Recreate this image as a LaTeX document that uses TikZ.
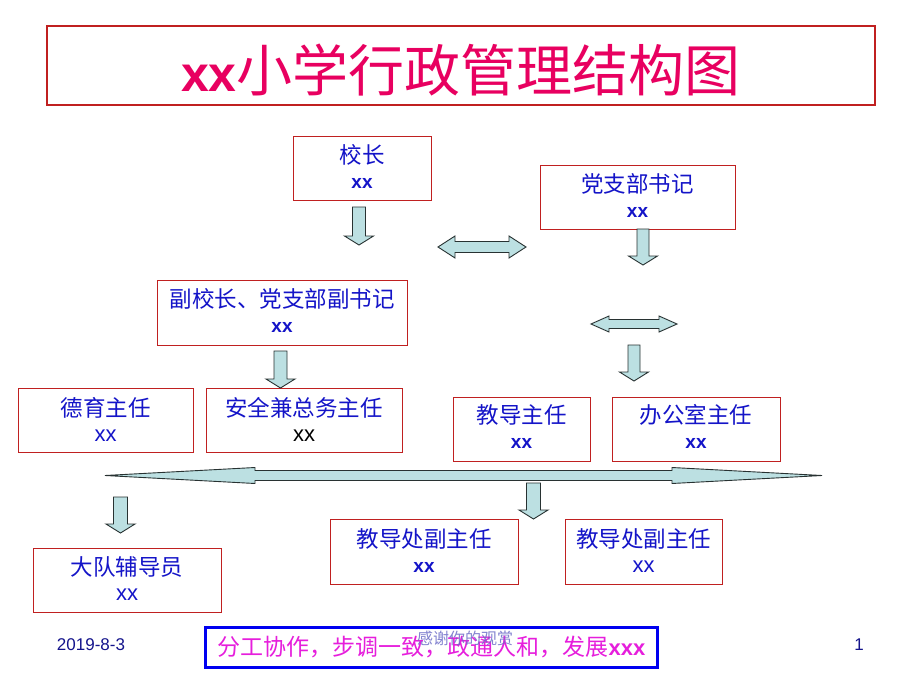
\documentclass[tikz,border=0pt]{standalone}
\usepackage{fontspec}
\setmainfont{Liberation Sans}
\newfontfamily\cjk{Noto Sans CJK SC}
\definecolor{boxred}{RGB}{192,32,32}
\definecolor{txtblue}{RGB}{20,20,200}
\definecolor{titlepink}{RGB}{232,0,96}
\definecolor{arrowfill}{RGB}{188,224,226}
\definecolor{arrowdraw}{RGB}{40,50,50}
\definecolor{footblue}{RGB}{0,0,240}
\definecolor{footmag}{RGB}{230,30,220}
\definecolor{datecol}{RGB}{20,20,140}
\definecolor{overlaycol}{RGB}{110,110,200}
\newcommand\blkdown[6]{%
\draw[blockarrow] (#1-#5,#2) -- (#1+#5,#2) -- (#1+#5,#3) -- (#1+#6,#3) -- (#1,#4) -- (#1-#6,#3) -- (#1-#5,#3) -- cycle;}
\newcommand\blkdbl[6]{%
\draw[blockarrow] (#1,#3) -- (#1+#6,#3-#5) -- (#1+#6,#3-#4) -- (#2-#6,#3-#4) -- (#2-#6,#3-#5) -- (#2,#3) -- (#2-#6,#3+#5) -- (#2-#6,#3+#4) -- (#1+#6,#3+#4) -- (#1+#6,#3+#5) -- cycle;}
\begin{document}
\begin{tikzpicture}[x=1pt,y=-1pt,
  orgbox/.style={draw=boxred, line width=1pt, inner sep=0pt},
  cn/.style={font=\cjk\fontsize{22.5}{27}\selectfont, text=txtblue, inner sep=0pt},
  xxb/.style={font=\bfseries\fontsize{19}{23}\selectfont, text=txtblue, inner sep=0pt},
  xxn/.style={font=\fontsize{22}{26}\selectfont, text=txtblue, inner sep=0pt},
  blockarrow/.style={fill=arrowfill, draw=arrowdraw, line width=0.9pt, line join=miter}]
\useasboundingbox (0,0) rectangle (920,690);
\fill[white] (0,0) rectangle (920,690);
% title
\node[draw=boxred, line width=2pt, minimum width=828pt, minimum height=79pt] (title) at (461,65.5) {};
\node[text=titlepink, inner sep=0pt] (titletext) at (461,70) {{\bfseries\fontsize{50}{60}\selectfont xx}{\cjk\fontsize{56}{64}\selectfont 小学行政管理结构图}};
% boxes
\node[orgbox, minimum width=138pt, minimum height=64pt] (xz) at (362,168) {};
\node[cn] (xzA) at (362,155) {校长};
\node[xxb] (xzB) at (362,183) {xx};
\node[orgbox, minimum width=195pt, minimum height=64pt] (dzb) at (637.5,197) {};
\node[cn] (dzbA) at (637.5,184) {党支部书记};
\node[xxb] (dzbB) at (637.5,212) {xx};
\node[orgbox, minimum width=250pt, minimum height=65pt] (fxz) at (282,312.5) {};
\node[cn] (fxzA) at (282,299) {副校长、党支部副书记};
\node[xxb] (fxzB) at (282,327) {xx};
\node[orgbox, minimum width=175pt, minimum height=64pt] (dy) at (105.5,420) {};
\node[cn] (dyA) at (105.5,408) {德育主任};
\node[xxn] (dyB) at (105.5,436) {xx};
\node[orgbox, minimum width=196pt, minimum height=64pt] (aq) at (304,420) {};
\node[cn] (aqA) at (304,408) {安全兼总务主任};
\node[xxn, text=black] (aqB) at (304,436) {xx};
\node[orgbox, minimum width=137pt, minimum height=64pt] (jd) at (521.5,429) {};
\node[cn] (jdA) at (521.5,415) {教导主任};
\node[xxb] (jdB) at (521.5,443) {xx};
\node[orgbox, minimum width=168pt, minimum height=64pt] (bgs) at (696,429) {};
\node[cn] (bgsA) at (696,415) {办公室主任};
\node[xxb] (bgsB) at (696,443) {xx};
\node[orgbox, minimum width=188pt, minimum height=64pt] (ddf) at (127,580) {};
\node[cn] (ddfA) at (127,567) {大队辅导员};
\node[xxn] (ddfB) at (127,595) {xx};
\node[orgbox, minimum width=188pt, minimum height=65pt] (jdf1) at (424,551.5) {};
\node[cn] (jdf1A) at (424,539) {教导处副主任};
\node[xxb] (jdf1B) at (424,567) {xx};
\node[orgbox, minimum width=157pt, minimum height=65pt] (jdf2) at (643.5,551.5) {};
\node[cn] (jdf2A) at (643.5,539) {教导处副主任};
\node[xxn] (jdf2B) at (643.5,567) {xx};
% block arrows
\blkdown{359}{207}{236}{245}{6.5}{14.5}
\blkdown{643}{229}{256}{265}{6}{14.5}
\blkdown{634}{345}{372}{381}{6}{14.5}
\blkdown{280.5}{351}{379}{388}{6.5}{14.5}
\blkdown{533.5}{483}{510}{519}{7}{14.5}
\blkdown{120.5}{497}{524}{533}{7}{14.5}
\blkdbl{438}{526}{247}{5.5}{11}{17}
\blkdbl{591}{677}{324}{4.5}{8}{18}
\blkdbl{105}{822}{475.5}{5}{8}{150}
% footer
\node[text=datecol, font=\fontsize{17}{20}\selectfont, inner sep=0pt] (date) at (91,645) {2019-8-3};
\node[text=datecol, font=\fontsize{17}{20}\selectfont, inner sep=0pt] (pagenum) at (859,645) {1};
\node[draw=footblue, line width=3pt, minimum width=452pt, minimum height=40pt] (motto) at (431,647) {};
\node[text=footmag, inner sep=0pt] (mottotext) at (431.5,647) {{\cjk\fontsize{23}{27}\selectfont 分工协作，步调一致，政通人和，发展}{\bfseries\fontsize{22}{26}\selectfont xxx}};
\node[text=overlaycol, opacity=0.85, font=\cjk\fontsize{16}{19}\selectfont, inner sep=0pt] (thanks) at (465,638) {感谢你的观赏};
\end{tikzpicture}
\end{document}
